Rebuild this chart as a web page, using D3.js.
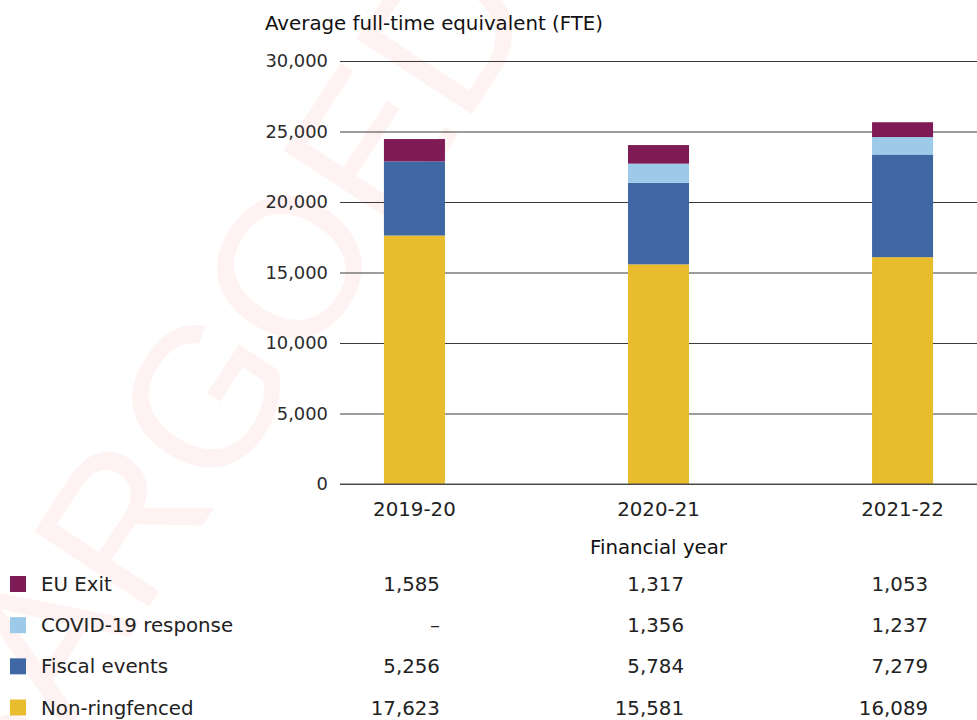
<!DOCTYPE html>
<html>
<head>
<meta charset="utf-8">
<script src="https://cdn.jsdelivr.net/npm/d3@7"></script>
<style>
  html, body { margin: 0; padding: 0; background: #fff; }
  svg { display: block; font-family: "DejaVu Sans", sans-serif; }
</style>
</head>
<body>
<svg id="chart" width="977" height="720"></svg>
<script>
const categories = ["2019-20", "2020-21", "2021-22"];
const seriesNames = ["Non-ringfenced", "Fiscal events", "COVID-19 response", "EU Exit"];
const nonRingfenced = [17623, 15581, 16089];
const fiscalEvents = [5256, 5784, 7279];
const covidResponse = [null, 1356, 1237];
const euExit = [1585, 1317, 1053];
const seriesColors = ["#e9bc2e", "#3f67a4", "#9ccae8", "#7e1a55"];
const yTicks = [0, 5000, 10000, 15000, 20000, 25000, 30000];
const yTitle = "Average full-time equivalent (FTE)";
const xTitle = "Financial year";
const legendOrder = ["EU Exit", "COVID-19 response", "Fiscal events", "Non-ringfenced"];

const seriesValues = {
  "Non-ringfenced": nonRingfenced,
  "Fiscal events": fiscalEvents,
  "COVID-19 response": covidResponse,
  "EU Exit": euExit
};

(function () {
const svg = d3.select("#chart");
const mLeft = 340, mRight = 977, mTop = 61, mBottom = 484;
const FONT = "DejaVu Sans, sans-serif";
const FS = 19.8;

// watermark
svg.append("text")
  .attr("transform", "translate(-170,1095) rotate(-56.8)")
  .attr("font-size", 200)
  .attr("font-family", "Liberation Sans, Arial, sans-serif")
  .attr("fill", "#ff0000")
  .attr("fill-opacity", 0.05)
  .text("EMBARGOED NOT");

const x = d3.scaleBand().domain(categories).range([mLeft, mRight])
  .paddingInner(0.75).paddingOuter(0.18);
const y = d3.scaleLinear().domain([0, 30000]).range([mBottom, mTop]);

// gridlines + y axis
const yAxis = d3.axisLeft(y).tickValues(yTicks)
  .tickFormat(d3.format(",")).tickSize(-(mRight - mLeft)).tickPadding(12);
const gy = svg.append("g").attr("transform", `translate(${mLeft},0)`).call(yAxis);
gy.select(".domain").remove();
gy.selectAll(".tick line").attr("stroke", "#3a3a3a").attr("stroke-width", 1.1);
gy.selectAll(".tick text").attr("font-size", 17.9).attr("fill", "#2b2b2b")
  .attr("font-family", FONT).attr("x", -12);

// stacked bars
const rows = categories.map((c, i) => {
  const o = { cat: c };
  seriesNames.forEach(s => { o[s] = seriesValues[s][i] || 0; });
  return o;
});
const stack = d3.stack().keys(seriesNames)(rows);
const color = d3.scaleOrdinal().domain(seriesNames).range(seriesColors);

svg.append("g").selectAll("g").data(stack).join("g")
  .attr("fill", d => color(d.key))
  .selectAll("rect").data(d => d).join("rect")
  .attr("x", d => x(d.data.cat))
  .attr("width", x.bandwidth())
  .attr("y", d => y(d[1]))
  .attr("height", d => y(d[0]) - y(d[1]));

// baseline redraw on top
svg.append("line").attr("x1", mLeft).attr("x2", mRight)
  .attr("y1", y(0)).attr("y2", y(0)).attr("stroke", "#555").attr("stroke-width", 1.2);

// x axis labels
const xAxis = d3.axisBottom(x).tickSize(0).tickPadding(17.5);
const gx = svg.append("g").attr("transform", `translate(0,${mBottom})`).call(xAxis);
gx.select(".domain").remove();
gx.selectAll(".tick text").attr("font-size", FS).attr("fill", "#222")
  .attr("font-family", FONT);

// titles
svg.append("text").attr("x", 265).attr("y", 30).attr("font-size", FS)
  .attr("fill", "#111").text(yTitle);
svg.append("text").attr("x", x("2020-21") + x.bandwidth() / 2).attr("y", 554)
  .attr("text-anchor", "middle").attr("font-size", FS).attr("fill", "#111").text(xTitle);

// legend table
const fmt = d3.format(",");
const rowY = d3.scalePoint().domain(legendOrder).range([584, 707.5]);
const lg = svg.append("g");
legendOrder.forEach(name => {
  const cy = rowY(name);
  lg.append("rect").attr("x", 10).attr("y", cy - 8).attr("width", 16).attr("height", 16)
    .attr("fill", color(name));
  lg.append("text").attr("x", 41).attr("y", cy + 7).attr("font-size", FS)
    .attr("fill", "#222").text(name);
  categories.forEach((c, i) => {
    const v = seriesValues[name][i];
    lg.append("text").attr("x", x(c) + x.bandwidth() - 5).attr("y", cy + 7)
      .attr("text-anchor", "end").attr("font-size", FS).attr("fill", "#222")
      .text(v == null ? "–" : fmt(v));
  });
});
})();
</script>
</body>
</html>
